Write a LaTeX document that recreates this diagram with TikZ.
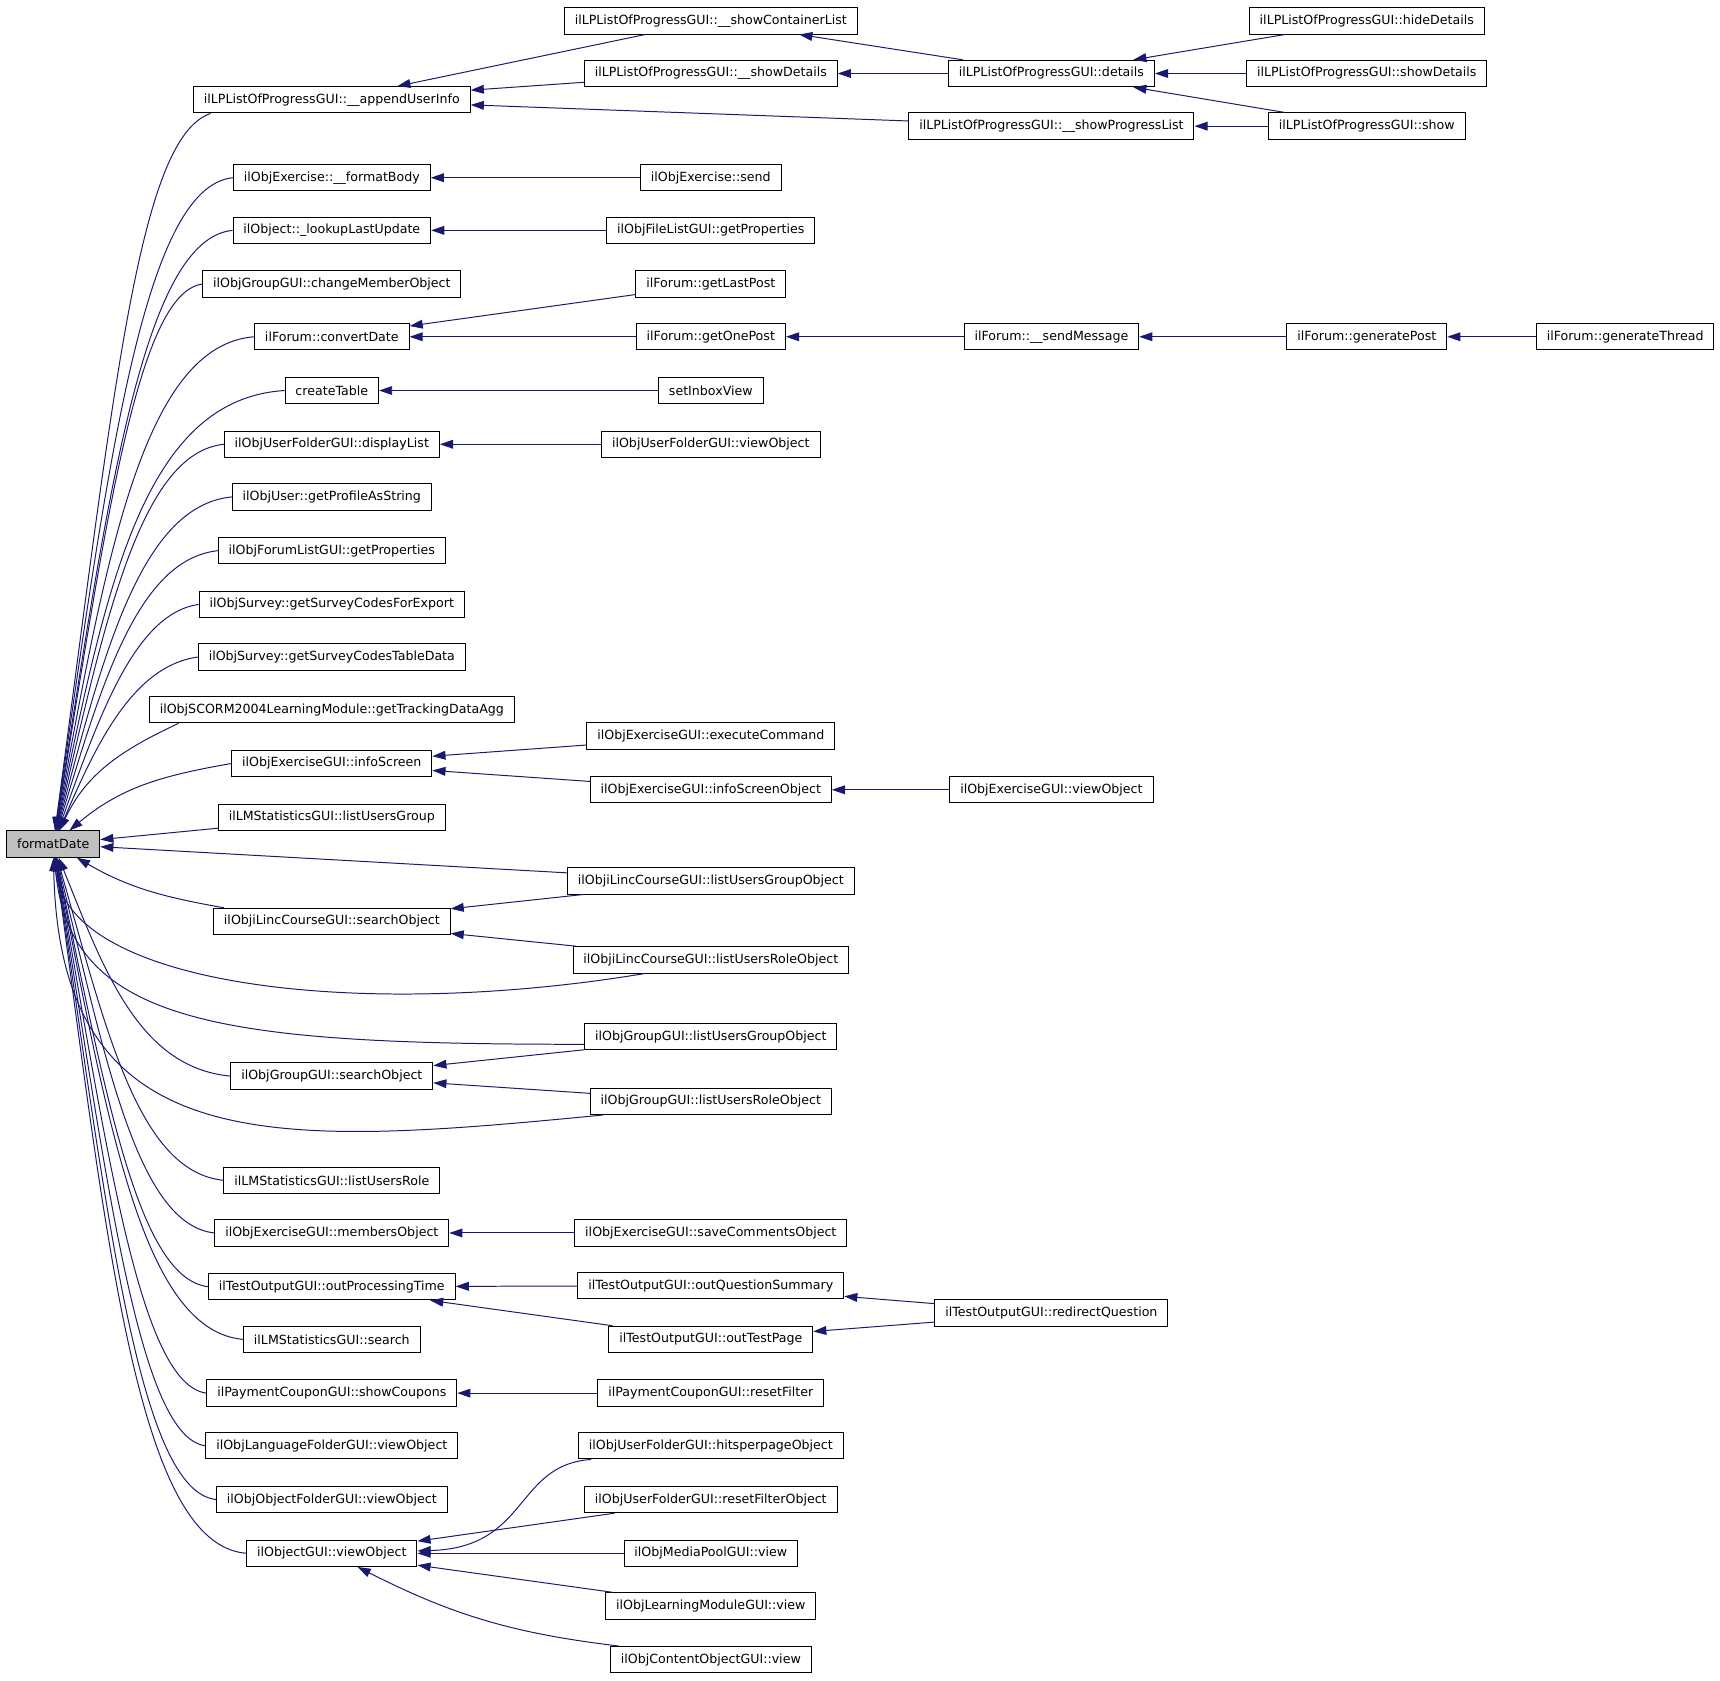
\documentclass[tikz,border=0pt]{standalone}
\usepackage{fontspec}
\newfontfamily\dxfont{DejaVu Sans}
\usetikzlibrary{arrows.meta}
\definecolor{edgeblue}{HTML}{191970}
\definecolor{hlgray}{HTML}{BFBFBF}
\tikzset{
  fn/.style={draw,fill=white,line width=0.9pt,minimum height=24pt,inner xsep=9.5pt,inner ysep=0pt,
    font=\dxfont\fontsize{11.5}{13}\selectfont},
  curfn/.style={fn,fill=hlgray},
  call/.style={<-,draw=edgeblue,line width=0.9pt}
}

\begin{document}
\begin{tikzpicture}[x=1pt,y=1pt,>={Triangle[length=12pt,width=8pt]}]
  \useasboundingbox (0,0) rectangle (1568,-1532);
  \node[curfn] (fd) at (48.5,-769.5) {formatDate};
  % direct callers
  \node[fn] (aui) at (302.5,-91) {ilLPListOfProgressGUI::\_\_appendUserInfo};
  \node[fn] (fbody) at (302.5,-162) {ilObjExercise::\_\_formatBody};
  \node[fn] (llu) at (302.5,-210) {ilObject::\_lookupLastUpdate};
  \node[fn] (cmo) at (302.5,-259) {ilObjGroupGUI::changeMemberObject};
  \node[fn] (cvd) at (302.5,-307) {ilForum::convertDate};
  \node[fn] (ctab) at (302.5,-356) {createTable};
  \node[fn] (dlist) at (302.5,-405) {ilObjUserFolderGUI::displayList};
  \node[fn] (gpas) at (302.5,-453) {ilObjUser::getProfileAsString};
  \node[fn] (flgp) at (302.5,-502) {ilObjForumListGUI::getProperties};
  \node[fn] (scfe) at (302.5,-551) {ilObjSurvey::getSurveyCodesForExport};
  \node[fn] (sctd) at (302.5,-599) {ilObjSurvey::getSurveyCodesTableData};
  \node[fn] (tda) at (302.5,-647) {ilObjSCORM2004LearningModule::getTrackingDataAgg};
  \node[fn] (isc) at (302.5,-696) {ilObjExerciseGUI::infoScreen};
  \node[fn] (lsug) at (302.5,-745) {ilLMStatisticsGUI::listUsersGroup};
  \node[fn] (lso) at (302.5,-840) {ilObjiLincCourseGUI::searchObject};
  \node[fn] (gso) at (302.5,-981) {ilObjGroupGUI::searchObject};
  \node[fn] (lsur) at (302.5,-1076) {ilLMStatisticsGUI::listUsersRole};
  \node[fn] (mobj) at (302.5,-1124) {ilObjExerciseGUI::membersObject};
  \node[fn] (opt) at (302.5,-1173) {ilTestOutputGUI::outProcessingTime};
  \node[fn] (lsse) at (302.5,-1221) {ilLMStatisticsGUI::search};
  \node[fn] (scp) at (302.5,-1270) {ilPaymentCouponGUI::showCoupons};
  \node[fn] (lfvo) at (302.5,-1318) {ilObjLanguageFolderGUI::viewObject};
  \node[fn] (ofvo) at (302.5,-1367) {ilObjObjectFolderGUI::viewObject};
  \node[fn] (ogvo) at (302.5,-1416) {ilObjectGUI::viewObject};
  % second level
  \node[fn] (scl) at (648,-19) {ilLPListOfProgressGUI::\_\_showContainerList};
  \node[fn] (sdt) at (648,-67) {ilLPListOfProgressGUI::\_\_showDetails};
  \node[fn] (esend) at (648,-162) {ilObjExercise::send};
  \node[fn] (fgp) at (648,-210) {ilObjFileListGUI::getProperties};
  \node[fn] (glp) at (648,-259) {ilForum::getLastPost};
  \node[fn] (gop) at (648,-307) {ilForum::getOnePost};
  \node[fn] (siv) at (648,-356) {setInboxView};
  \node[fn] (ufvo) at (648,-405) {ilObjUserFolderGUI::viewObject};
  \node[fn] (exc) at (648,-671) {ilObjExerciseGUI::executeCommand};
  \node[fn] (iso) at (648,-720) {ilObjExerciseGUI::infoScreenObject};
  \node[fn] (lugo) at (648,-803) {ilObjiLincCourseGUI::listUsersGroupObject};
  \node[fn] (luro) at (648,-875) {ilObjiLincCourseGUI::listUsersRoleObject};
  \node[fn] (gugo) at (648,-945) {ilObjGroupGUI::listUsersGroupObject};
  \node[fn] (guro) at (648,-1004) {ilObjGroupGUI::listUsersRoleObject};
  \node[fn] (sco) at (648,-1124) {ilObjExerciseGUI::saveCommentsObject};
  \node[fn] (oqs) at (648,-1172) {ilTestOutputGUI::outQuestionSummary};
  \node[fn] (otp) at (648,-1221) {ilTestOutputGUI::outTestPage};
  \node[fn] (rfil) at (648,-1270) {ilPaymentCouponGUI::resetFilter};
  \node[fn] (hpp) at (648,-1318) {ilObjUserFolderGUI::hitsperpageObject};
  \node[fn] (rfo) at (648,-1367) {ilObjUserFolderGUI::resetFilterObject};
  \node[fn] (mpv) at (648,-1416) {ilObjMediaPoolGUI::view};
  \node[fn] (lmv) at (648,-1464) {ilObjLearningModuleGUI::view};
  \node[fn] (cov) at (648,-1513) {ilObjContentObjectGUI::view};
  % third level and beyond
  \node[fn] (det) at (958.5,-67) {ilLPListOfProgressGUI::details};
  \node[fn] (spl) at (958.5,-115) {ilLPListOfProgressGUI::\_\_showProgressList};
  \node[fn] (smsg) at (958.5,-307) {ilForum::\_\_sendMessage};
  \node[fn] (evo) at (958.5,-720) {ilObjExerciseGUI::viewObject};
  \node[fn] (rdq) at (958.5,-1197) {ilTestOutputGUI::redirectQuestion};
  \node[fn] (hdet) at (1246,-19) {ilLPListOfProgressGUI::hideDetails};
  \node[fn] (sdet) at (1246,-67) {ilLPListOfProgressGUI::showDetails};
  \node[fn] (lshow) at (1246,-115) {ilLPListOfProgressGUI::show};
  \node[fn] (gpost) at (1246,-307) {ilForum::generatePost};
  \node[fn] (gthr) at (1481.5,-307) {ilForum::generateThread};

  % callers of formatDate
  \draw[call] (fd) .. controls +(56,420) and +(-65,-22) .. ([xshift=16pt]aui.south west);
  \draw[call] (fd) .. controls +(50,350) and +(-81,-8) .. (fbody.west);
  \draw[call] (fd) .. controls +(50,320) and +(-81,-8) .. (llu.west);
  \draw[call] (fd) .. controls +(48,292) and +(-59,-8) .. (cmo.west);
  \draw[call] (fd) .. controls +(48,262) and +(-101,-8) .. (cvd.west);
  \draw[call] (fd) .. controls +(48,234) and +(-129,-8) .. (ctab.west);
  \draw[call] (fd) .. controls +(47,204) and +(-76,-8) .. (dlist.west);
  \draw[call] (fd) .. controls +(46,176) and +(-82,-8) .. (gpas.west);
  \draw[call] (fd) .. controls +(44,146) and +(-73,-8) .. (flgp.west);
  \draw[call] (fd) .. controls +(42,117) and +(-58,-8) .. (scfe.west);
  \draw[call] (fd) .. controls +(38,88) and +(-60,-8) .. (sctd.west);
  \draw[call] (fd) to[out=65,in=-155] ([xshift=27pt]tda.south west);
  \draw[call] (fd) to[out=40,in=190] (isc.west);
  \draw[call] (fd) -- (lsug);
  \draw[call] (fd) -- (lugo);
  \draw[call] (fd) to[out=-30,in=170] ([xshift=10pt]lso.north west);
  \draw[call] (fd) .. controls +(12,-130) and +(-258,-43) .. ([xshift=66pt]luro.south west);
  \draw[call] (fd) .. controls +(15,-165) and +(-330,0) .. ([yshift=-7pt]gugo.west);
  \draw[call] (fd) .. controls +(46,-114) and +(-84,8) .. (gso.west);
  \draw[call] (fd) .. controls +(6,-290) and +(-299,-29) .. ([xshift=12pt]guro.south west);
  \draw[call] (fd) .. controls +(48,-168) and +(-78,8) .. (lsur.west);
  \draw[call] (fd) .. controls +(48,-198) and +(-70,8) .. (mobj.west);
  \draw[call] (fd) .. controls +(48,-228) and +(-64,8) .. (opt.west);
  \draw[call] (fd) .. controls +(50,-257) and +(-91,8) .. (lsse.west);
  \draw[call] (fd) .. controls +(50,-286) and +(-60,8) .. (scp.west);
  \draw[call] (fd) .. controls +(50,-315) and +(-60,8) .. (lfvo.west);
  \draw[call] (fd) .. controls +(50,-344) and +(-70,8) .. (ofvo.west);
  \draw[call] (fd) .. controls +(50,-373) and +(-98,8) .. (ogvo.west);

  % further callers
  \draw[call] (aui) -- (scl);
  \draw[call] (aui) -- (sdt);
  \draw[call] (aui) -- (spl);
  \draw[call] (scl) -- (det);
  \draw[call] (sdt) -- (det);
  \draw[call] (det) -- (hdet);
  \draw[call] (det) -- (sdet);
  \draw[call] (det) -- (lshow);
  \draw[call] (spl) -- (lshow);
  \draw[call] (fbody) -- (esend);
  \draw[call] (llu) -- (fgp);
  \draw[call] (cvd) -- (glp);
  \draw[call] (cvd) -- (gop);
  \draw[call] (gop) -- (smsg);
  \draw[call] (smsg) -- (gpost);
  \draw[call] (gpost) -- (gthr);
  \draw[call] (ctab) -- (siv);
  \draw[call] (dlist) -- (ufvo);
  \draw[call] (isc) -- (exc);
  \draw[call] (isc) -- (iso);
  \draw[call] (iso) -- (evo);
  \draw[call] (lso) -- (lugo);
  \draw[call] (lso) -- (luro);
  \draw[call] (gso) -- (gugo);
  \draw[call] (gso) -- (guro);
  \draw[call] (mobj) -- (sco);
  \draw[call] (opt) -- (oqs);
  \draw[call] (opt) -- (otp);
  \draw[call] (oqs) -- (rdq);
  \draw[call] (otp) -- (rdq);
  \draw[call] (scp) -- (rfil);
  \draw[call] (ogvo) .. controls +(180,5) and +(-70,-5) .. ([xshift=12pt]hpp.south west);
  \draw[call] (ogvo) -- (rfo);
  \draw[call] (ogvo) -- (mpv);
  \draw[call] (ogvo) -- (lmv);
  \draw[call] (ogvo) to[bend right=10] ([xshift=8pt]cov.north west);
\end{tikzpicture}
\end{document}
